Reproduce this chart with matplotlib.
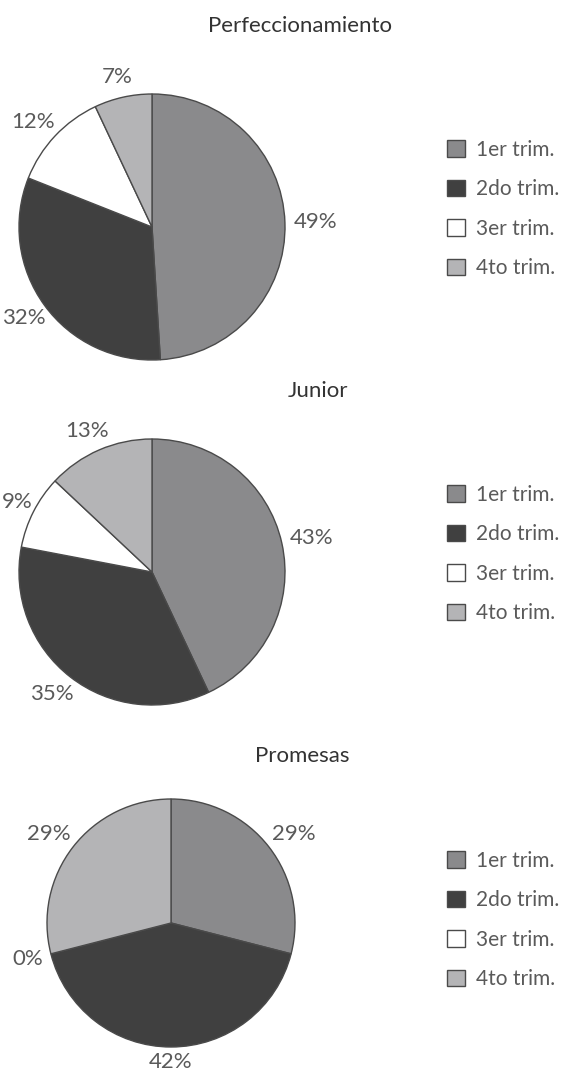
import numpy as np
import matplotlib
matplotlib.use("Agg")
import matplotlib.pyplot as plt

# ---------------- data ----------------
titles = ["Perfeccionamiento", "Junior", "Promesas"]
categories = ["1er trim.", "2do trim.", "3er trim.", "4to trim."]
perfeccionamiento = [49, 32, 12, 7]
junior = [43, 35, 9, 13]
promesas = [29, 42, 0, 29]
series = [perfeccionamiento, junior, promesas]

# ---------------- style / layout ----------------
colors = ["#8a8a8c", "#404040", "#ffffff", "#b4b4b6"]
edge = "#4a4a4a"
text_color = "#5a5a5a"
title_color = "#333333"
plt.rcParams["font.family"] = ["Lato", "DejaVu Sans"]

W, H = 563, 1075
DPI = 100
# (pie centre x, pie centre y, radius, title x, title y, legend centre y)   in pixels from top-left
layout = [
    (152, 227, 133, 300, 26, 209),
    (152, 572, 133, 318, 391, 554),
    (171, 923, 124, 302, 756, 920),
]
legend_left = 447
label_gap = 9  # px between pie edge and label box

fig = plt.figure(figsize=(W / DPI, H / DPI), dpi=DPI)
pies = []

for vals, title, (cx, cy, r, tx, ty, ly) in zip(series, titles, layout):
    k = 1.7
    R = k * r
    ax = fig.add_axes([(cx - R) / W, 1 - (cy + R) / H, 2 * R / W, 2 * R / H])
    wedges, texts, autotexts = ax.pie(
        vals,
        colors=colors,
        startangle=90,
        counterclock=False,
        autopct=lambda p: f"{p:.0f}%",
        pctdistance=1.2,
        wedgeprops=dict(edgecolor=edge, linewidth=1.0),
        textprops=dict(color=text_color, fontsize=16),
    )
    ax.set_xlim(-k, k)
    ax.set_ylim(-k, k)
    ax.set_aspect("auto")
    ax.axis("off")
    pies.append((ax, r, wedges, autotexts))

    fig.text(tx / W, 1 - ty / H, title, ha="center", va="center",
             fontsize=16, color=title_color)

    fig.legend(
        wedges, categories,
        loc="center left",
        bbox_to_anchor=(legend_left / W, 1 - ly / H),
        bbox_transform=fig.transFigure,
        frameon=False,
        fontsize=15,
        borderpad=0,
        borderaxespad=0,
        handlelength=0.85,
        handleheight=0.85,
        handletextpad=0.55,
        labelspacing=0.93,
        labelcolor=text_color,
    )

# place percentage labels just outside the pie edge, like "outside end" labels
fig.canvas.draw()
renderer = fig.canvas.get_renderer()
for ax, r, wedges, autotexts in pies:
    for w, t in zip(wedges, autotexts):
        ang = np.deg2rad((w.theta1 + w.theta2) / 2.0)
        bb = t.get_window_extent(renderer)
        c, s = np.cos(ang), np.sin(ang)
        d = r + label_gap
        x = d * c + 0.5 * bb.width * c
        y = d * s + 0.6 * bb.height * s
        t.set_position((x / r, y / r))
        t.set_ha("center")
        t.set_va("center")
    # keep labels inside the figure's left and bottom edges
    fig.canvas.draw()
    for t in autotexts:
        bb = t.get_window_extent(renderer)
        px, py = ax.transData.transform(t.get_position())
        if bb.x0 < 2:
            px += 2 - bb.x0
        if bb.y0 < 3:
            py += 3 - bb.y0
        t.set_position(ax.transData.inverted().transform((px, py)))

fig.savefig("out.png", dpi=DPI)
